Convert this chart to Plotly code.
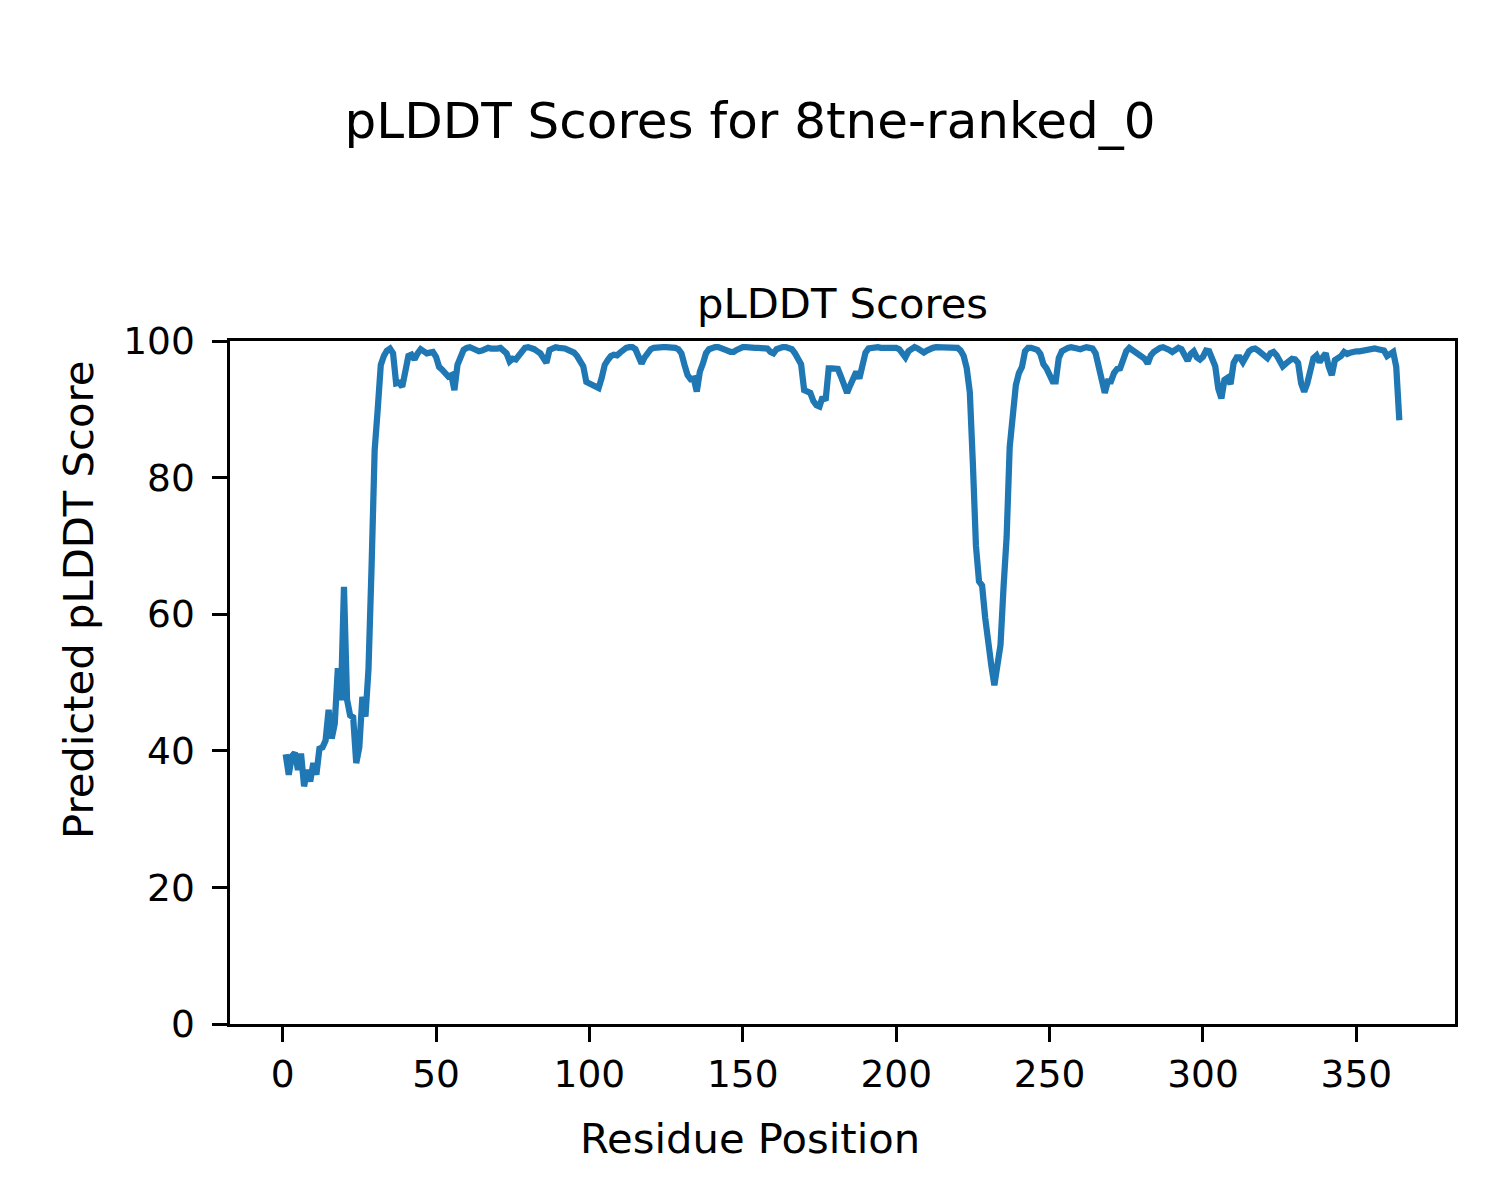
import plotly.graph_objects as go

# pLDDT per residue (residues 1..364)
scores = [
    39.5, 36.5, 39.2, 39.7, 37.2, 39.6, 34.8, 37.2, 35.5, 38.2,
    36.5, 40.3, 40.5, 41.5, 46.0, 41.8, 44.0, 52.1, 47.4, 64.0,
    47.5, 45.2, 44.9, 38.2, 40.5, 47.9, 45.0, 52.0, 67.0, 84.0,
    90.0, 96.5, 97.8, 98.6, 98.9, 98.2, 93.8, 93.9, 93.3, 96.0,
    97.8, 98.0, 97.3, 98.2, 98.8, 98.5, 98.2, 98.3, 98.4, 97.7,
    96.2, 95.8, 95.3, 94.8, 95.0, 92.8, 96.5, 97.5, 98.7, 99.0,
    99.1, 98.9, 98.7, 98.5, 98.6, 98.9, 99.0, 98.9, 98.8, 98.9,
    99.0, 98.7, 98.2, 97.0, 97.4, 97.3, 98.0, 98.7, 99.0, 99.1,
    99.0, 98.8, 98.5, 98.2, 97.5, 96.8, 98.7, 99.0, 99.1, 99.0,
    99.0, 98.9, 98.7, 98.5, 98.3, 97.8, 97.2, 96.3, 94.0, 93.8,
    93.7, 93.5, 93.1, 94.6, 96.5, 97.2, 97.8, 98.0, 97.9, 98.3,
    98.8, 99.0, 99.1, 99.1, 98.8, 97.8, 96.7, 97.6, 98.3, 98.8,
    99.0, 99.1, 99.1, 99.1, 99.1, 99.1, 99.1, 99.0, 98.8,
    98.2, 96.5, 95.0, 94.4, 94.5, 92.6, 95.5, 96.7, 98.2, 98.8,
    99.0, 99.1, 99.1, 99.0, 98.9, 98.6, 98.4, 98.4, 98.7, 99.0,
    99.1, 99.1, 99.0, 99.0, 99.0, 99.0, 99.0, 98.9, 98.9, 98.4,
    98.2, 98.8, 99.0, 99.1, 99.1, 99.0, 98.8, 98.2, 97.3, 96.6,
    92.8, 92.6, 92.4, 91.2, 90.6, 90.4, 91.8, 91.3, 96.0, 96.0,
    95.9, 95.9, 94.8, 93.8, 92.4, 93.5, 94.3, 95.5, 94.5, 97.0,
    98.3, 98.9, 99.0, 99.1, 99.1, 99.0, 99.0, 99.0, 99.1, 99.1,
    99.0, 98.8, 98.1, 97.6, 98.5, 98.9, 99.1, 98.9, 98.6, 98.3,
    98.6, 98.9, 99.0, 99.1, 99.1, 99.0, 99.0, 99.1, 99.1, 99.0,
    99.0, 98.6, 97.8, 96.0, 92.5, 82.0, 70.0, 64.8, 64.2, 59.5,
    55.0, 52.5, 49.6, 53.5, 55.5, 64.0, 71.3, 84.5, 90.5, 93.5,
    95.3, 96.2, 98.5, 99.0, 99.0, 98.9, 98.7, 98.1, 96.6, 96.0,
    95.0, 94.1, 94.1, 97.5, 98.5, 98.9, 99.0, 99.1, 99.1, 98.9,
    98.8, 99.0, 99.1, 99.0, 98.9, 98.2, 96.5, 94.5, 92.4, 94.1,
    94.1, 95.3, 95.9, 96.0, 97.5, 98.5, 99.0, 98.7, 98.4, 98.1,
    97.8, 97.4, 96.7, 97.9, 98.4, 98.8, 99.0, 99.1, 99.0, 98.7,
    98.4, 98.7, 99.0, 98.8, 98.0, 97.1, 98.1, 98.5, 97.6, 97.3,
    97.7, 98.6, 98.5, 97.6, 96.3, 93.0, 91.6, 94.3, 94.6, 93.7,
    96.8, 97.6, 97.6, 96.9, 97.8, 98.5, 98.8, 98.9, 98.6, 98.3,
    97.8, 97.5, 98.2, 98.4, 97.9, 96.8, 96.3, 96.7, 97.0, 97.4,
    97.3, 96.8, 93.8, 92.6, 93.8, 96.2, 97.5, 97.9, 96.9, 97.6,
    98.2, 96.2, 95.0, 97.2, 97.5, 97.8, 98.4, 98.1, 98.3, 98.5,
    98.5, 98.5, 98.6, 98.6, 98.7, 98.7, 98.9, 98.8, 98.8, 98.6,
    97.8, 98.0, 98.4, 96.2, 88.4,
]
residues = list(range(1, len(scores) + 1))

x_ticks = [0, 50, 100, 150, 200, 250, 300, 350]
y_ticks = [0, 20, 40, 60, 80, 100]

main_title = "pLDDT Scores for 8tne-ranked_0"
sub_title = "pLDDT Scores"
x_label = "Residue Position"
y_label = "Predicted pLDDT Score"

FONT = "DejaVu Sans"
OFF = 8  # page body margin in the browser
W, H = 1500 - OFF, 1200 - OFF
# target plot-area in screen pixels
PX0, PX1, PY0, PY1 = 230, 1455, 341, 1024
L, T = PX0 - OFF, PY0 - OFF
R = W - (PX1 - OFF)
B = H - (PY1 - OFF)
pw, ph = PX1 - PX0, PY1 - PY0

span = residues[-1] - residues[0]
xr = [residues[0] - 0.05 * span, residues[-1] + 0.05 * span]

fig = go.Figure()
fig.add_trace(go.Scatter(
    x=residues, y=scores, mode="lines",
    line=dict(color="#1f77b4", width=6.25),
    showlegend=False,
))

axis_common = dict(
    showline=True, linecolor="black", linewidth=3.3, mirror=True,
    ticks="outside", ticklen=14.6, tickwidth=3.3, tickcolor="black",
    showgrid=False, zeroline=False,
    tickfont=dict(family=FONT, size=37.5, color="black"),
)

fig.update_xaxes(range=xr, tickvals=x_ticks, ticktext=[str(v) for v in x_ticks], **axis_common)
fig.update_yaxes(range=[0, 100], tickvals=y_ticks, ticktext=[str(v) for v in y_ticks],
                 ticklabelstandoff=10, **axis_common)

def px_to_paper_x(px):
    return (px - PX0) / pw

def py_to_paper_y(py):
    return (PY1 - py) / ph

fig.update_layout(
    width=W, height=H,
    margin=dict(l=L, r=R, t=T, b=B),
    paper_bgcolor="white", plot_bgcolor="white",
    font=dict(family=FONT, color="black"),
    title=dict(text=main_title, x=(750 - OFF) / W, xref="container", xanchor="center",
               y=1 - (120 - OFF) / H, yref="container", yanchor="middle",
               font=dict(family=FONT, size=50, color="black")),
    annotations=[
        dict(text=sub_title, xref="paper", yref="paper", x=0.5, y=py_to_paper_y(303),
             xanchor="center", yanchor="middle", showarrow=False,
             font=dict(family=FONT, size=41.7, color="black")),
        dict(text=x_label, xref="paper", yref="paper", x=px_to_paper_x(750), y=py_to_paper_y(1138),
             xanchor="center", yanchor="middle", showarrow=False,
             font=dict(family=FONT, size=41.7, color="black")),
        dict(text=y_label, xref="paper", yref="paper", x=px_to_paper_x(78), y=py_to_paper_y(600),
             xanchor="center", yanchor="middle", showarrow=False, textangle=-90,
             font=dict(family=FONT, size=41.7, color="black")),
    ],
)

fig.write_html("out.html")
